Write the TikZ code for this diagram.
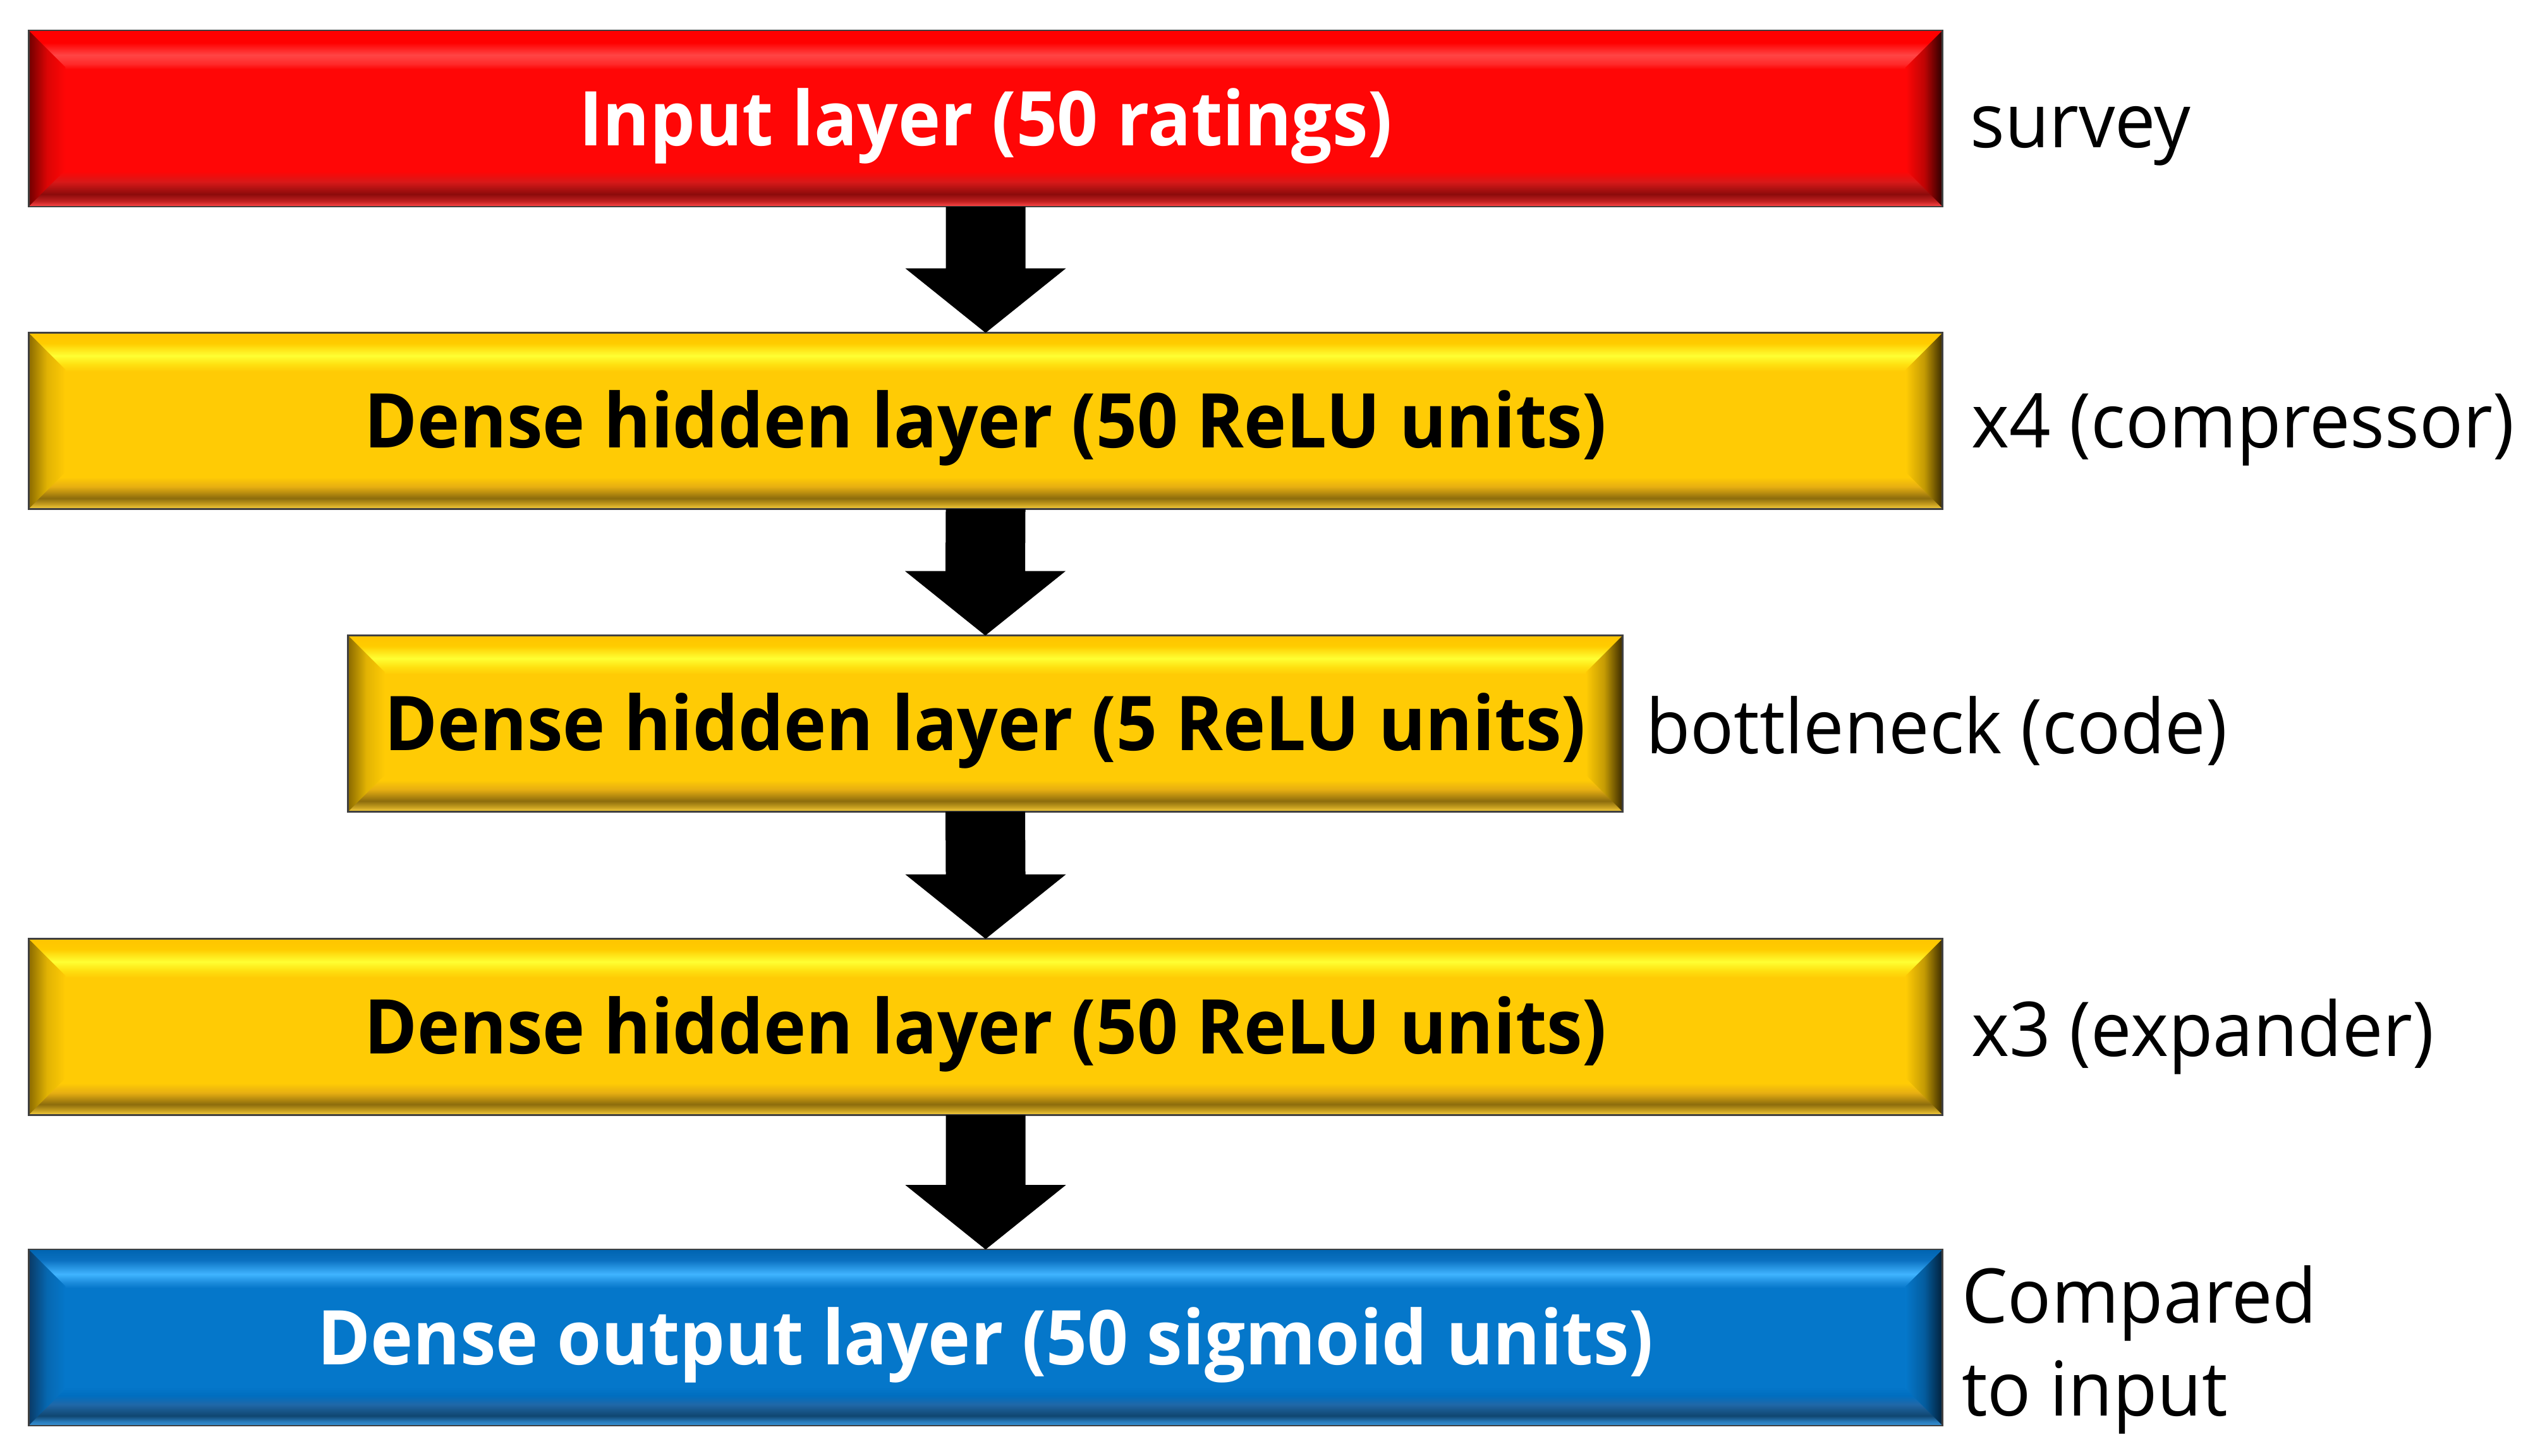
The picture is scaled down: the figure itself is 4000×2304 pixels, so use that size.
\documentclass[tikz,border=0pt]{standalone}
\usepackage{fontspec}
\setmainfont{Open Sans}[FakeStretch=0.96, BoldFeatures={FakeStretch=0.95}]
\usetikzlibrary{calc,backgrounds}

% red
\definecolor{rB}{HTML}{FF4848}\definecolor{rC}{HTML}{C02020}\definecolor{rD}{HTML}{8C0B0B}
\definecolor{rE}{HTML}{D81818}\definecolor{rF}{HTML}{FF0606}\definecolor{rG}{HTML}{FF2A2A}
\definecolor{rH}{HTML}{FF4545}\definecolor{rT}{HTML}{FF0000}
\definecolor{rL}{HTML}{700000}\definecolor{rR}{HTML}{2A0000}
% yellow
\definecolor{yB}{HTML}{F8D040}\definecolor{yC}{HTML}{C8A020}\definecolor{yD}{HTML}{8C6C0C}
\definecolor{yE}{HTML}{E6AE12}\definecolor{yF}{HTML}{FFCB05}\definecolor{yG}{HTML}{FFE010}
\definecolor{yH}{HTML}{FFFF33}\definecolor{yI}{HTML}{FFCC00}\definecolor{yT}{HTML}{FFC400}
\definecolor{yL}{HTML}{8A6A00}\definecolor{yR}{HTML}{3A2A00}
% blue
\definecolor{bB}{HTML}{3A90D0}\definecolor{bC}{HTML}{2A7EC0}\definecolor{bD}{HTML}{104670}
\definecolor{bE}{HTML}{2068A8}\definecolor{bE2}{HTML}{006EC0}\definecolor{bF}{HTML}{0577CA}
\definecolor{bG}{HTML}{1A8ADA}\definecolor{bH}{HTML}{40B4FF}\definecolor{bI}{HTML}{0A70C0}
\definecolor{bT}{HTML}{0064B0}\definecolor{bL}{HTML}{0A3A66}\definecolor{bR}{HTML}{02203A}

\pgfdeclareverticalshading{redV}{100bp}{color(0bp)=(rB); color(25bp)=(rB); color(26.5bp)=(rC);
 color(28.5bp)=(rD); color(32bp)=(rE); color(35bp)=(rF); color(64bp)=(rF); color(65.5bp)=(rG);
 color(68bp)=(rH); color(71.5bp)=(rT); color(75bp)=(rT); color(100bp)=(rT)}
\pgfdeclareverticalshading{yelV}{100bp}{color(0bp)=(yB); color(25bp)=(yB); color(26.25bp)=(yC);
 color(28bp)=(yD); color(31.25bp)=(yE); color(34bp)=(yF); color(64bp)=(yF); color(66bp)=(yG);
 color(68.5bp)=(yH); color(72bp)=(yI); color(75bp)=(yT); color(100bp)=(yT)}
\pgfdeclareverticalshading{bluV}{100bp}{color(0bp)=(bB); color(25bp)=(bB); color(26bp)=(bC);
 color(27.75bp)=(bD); color(31bp)=(bE); color(33.5bp)=(bE2); color(36bp)=(bF); color(64bp)=(bF);
 color(65.5bp)=(bG); color(68bp)=(bH); color(72bp)=(bI); color(75bp)=(bT); color(100bp)=(bT)}

\tikzset{
  bx/.style={rectangle, inner sep=0pt, minimum height=2.77cm,
    font=\bfseries\fontsize{34}{40}\selectfont, text height=24.3pt, text depth=0pt},
  lbl/.style={inner sep=0pt, anchor=base west, font=\fontsize{34}{41.7}\selectfont, align=left},
  bvborder/.style={draw=black!75, line width=0.025cm},
  arr/.style={fill=black}
}

\newcommand\bvlbox[5]{%
  \shade[shading=#2] (#1.north west) rectangle (#1.south east);
  \shade[left color=#3, right color=#4, middle color=#4!75!#3]
    (#1.north west) -- ($(#1.north west)+(58,58)$) -- ($(#1.south west)+(58,-58)$) -- (#1.south west) -- cycle;
  \shade[left color=#4, right color=#5, middle color=#4!70!#5]
    (#1.north east) -- ($(#1.north east)+(-58,58)$) -- ($(#1.south east)+(-58,-58)$) -- (#1.south east) -- cycle;
  \draw[bvborder] (#1.north west) rectangle (#1.south east);
}
\newcommand\dnarrow[2]{%
  \fill[arr] ($(#1.south)+(-63,0)$) -- ($(#1.south)+(63,0)$) -- ($(#2.north)+(63,-102)$)
    -- ($(#2.north)+(127,-102)$) -- (#2.north) -- ($(#2.north)+(-127,-102)$)
    -- ($(#2.north)+(-63,-102)$) -- cycle;
}

\begin{document}
\begin{tikzpicture}[x=0.01cm,y=-0.01cm]
\useasboundingbox (0,0) rectangle (4000,2304);

\node[bx, minimum width=30.25cm, text=white] (in) at (1559.5,187.5) {Input layer (50 ratings)};
\node[bx, minimum width=30.25cm, text=black] (h1) at (1559.5,666) {Dense hidden layer (50 ReLU units)};
\node[bx, minimum width=20.14cm, text=black] (bn) at (1559,1145) {Dense hidden layer (5 ReLU units)};
\node[bx, minimum width=30.25cm, text=black] (h2) at (1559.5,1625) {Dense hidden layer (50 ReLU units)};
\node[bx, minimum width=30.25cm, text=white] (out) at (1559.5,2116.5) {Dense output layer (50 sigmoid units)};

\begin{scope}[on background layer]
  \fill[white] (0,0) rectangle (4000,2304);
  \bvlbox{in}{redV}{rL}{rF}{rR}
  \bvlbox{h1}{yelV}{yL}{yF}{yR}
  \bvlbox{bn}{yelV}{yL}{yF}{yR}
  \bvlbox{h2}{yelV}{yL}{yF}{yR}
  \bvlbox{out}{bluV}{bL}{bF}{bR}
\end{scope}

\dnarrow{in}{h1}
\dnarrow{h1}{bn}
\dnarrow{bn}{h2}
\dnarrow{h2}{out}

\node[lbl] (lin) at ($(in.east)+(43,46.5)$) {survey};
\node[lbl] (lh1) at ($(h1.east)+(45,43)$) {x4 (compressor)};
\node[lbl] (lbn) at ($(bn.east)+(36,47)$) {bottleneck (code)};
\node[lbl] (lh2) at ($(h2.east)+(45,46)$) {x3 (expander)};
\node[lbl] (lout) at ($(out.east)+(30,123.5)$) {Compared\\to input};
\end{tikzpicture}
\end{document}
